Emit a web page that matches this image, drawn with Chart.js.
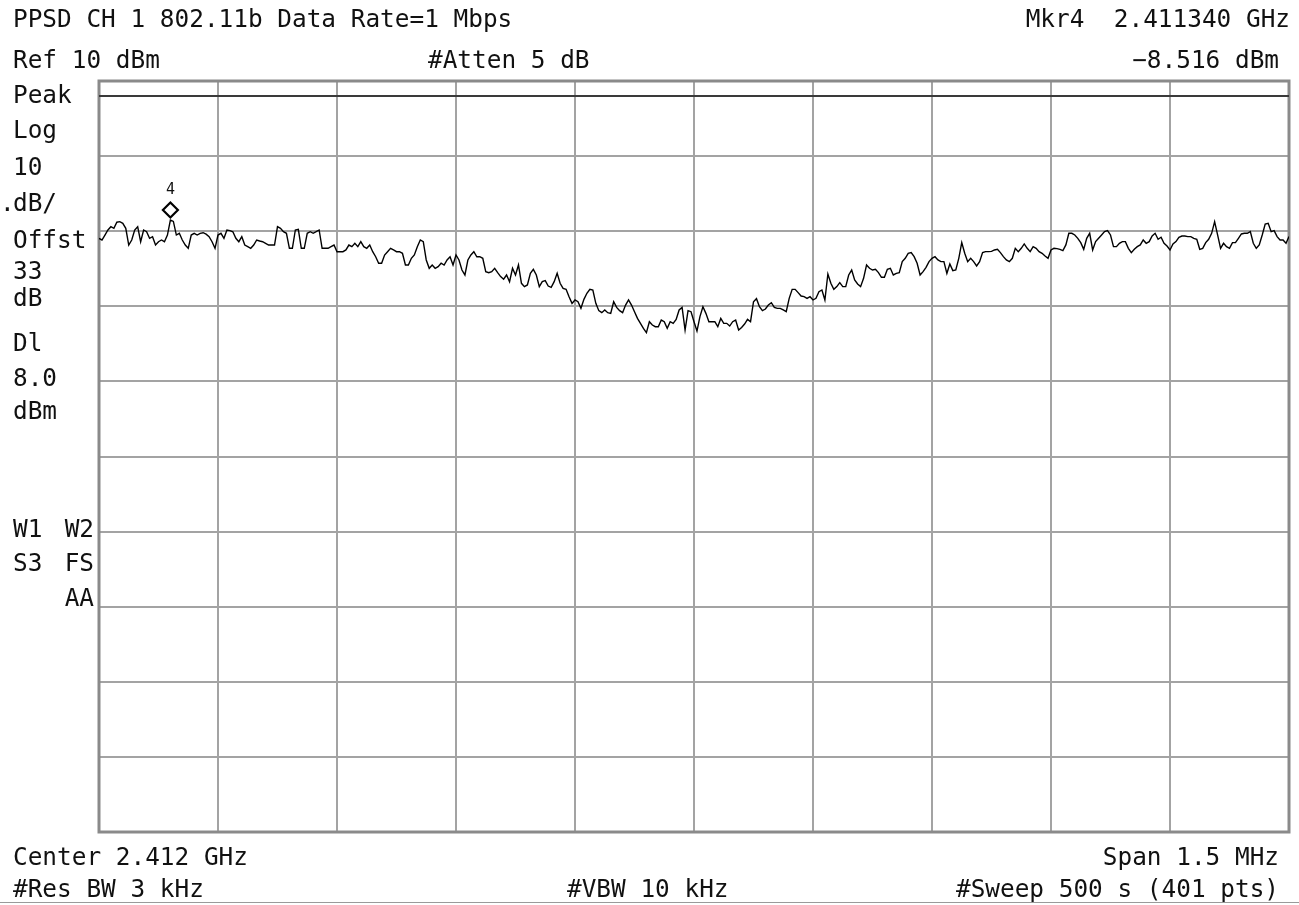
<!DOCTYPE html>
<html>
<head>
<meta charset="utf-8">
<script src="https://cdn.jsdelivr.net/npm/chart.js@4.4.1/dist/chart.umd.min.js"></script>
<style>
  html, body { margin: 0; padding: 0; background: #fff; }
  #wrap { width: 1299px; height: 905px; }
</style>
</head>
<body>
<div id="wrap"><canvas id="psd" width="1299" height="905"></canvas></div>
<script>
// analyzer settings
const centerMHz = 2412;
const spanMHz = 1.5;
const refLevelDbm = 10;
const dbPerDiv = 10;
const displayLineDbm = 8.0;
const markerMHz = 2411.34;
const markerDbm = -8.516;

// 401 point sweep, dBm
const traceDbm = [
  -10.95, -11.17, -10.51, -9.84, -9.40, -9.61, -8.80, -8.73, -8.95, -9.61,
  -11.84, -11.17, -9.84, -9.40, -11.40, -9.84, -10.07, -10.95, -10.73, -11.84,
  -11.40, -11.17, -11.40, -10.51, -8.52, -8.70, -10.51, -10.28, -11.17, -11.84,
  -12.28, -10.51, -10.28, -10.51, -10.28, -10.20, -10.40, -10.73, -11.40, -12.28,
  -10.51, -10.28, -10.95, -9.84, -9.93, -10.07, -10.95, -11.40, -10.73, -11.84,
  -12.06, -12.28, -11.84, -11.17, -11.30, -11.40, -11.61, -11.84, -11.84, -11.84,
  -9.40, -9.61, -10.07, -10.28, -12.28, -12.28, -9.84, -9.75, -12.28, -12.28,
  -10.28, -10.07, -10.28, -10.07, -9.84, -12.28, -12.28, -12.28, -12.06, -11.84,
  -12.73, -12.72, -12.73, -12.50, -11.84, -12.06, -11.61, -12.06, -11.40, -12.06,
  -12.28, -11.84, -12.73, -13.40, -14.27, -14.27, -13.17, -12.73, -12.28, -12.50,
  -12.73, -12.73, -12.94, -14.50, -14.50, -13.61, -13.17, -12.06, -11.17, -11.40,
  -13.83, -14.94, -14.50, -14.94, -14.73, -14.27, -14.50, -13.83, -13.40, -14.50,
  -13.17, -13.83, -15.17, -15.83, -13.83, -13.17, -12.73, -13.40, -13.40, -13.61,
  -15.39, -15.52, -15.39, -14.94, -15.52, -16.05, -16.40, -15.83, -16.72, -14.94,
  -15.83, -14.50, -16.94, -17.38, -17.16, -15.61, -15.08, -15.83, -17.38, -16.72,
  -16.58, -17.30, -17.47, -16.72, -15.61, -16.94, -17.61, -17.74, -18.72, -19.61,
  -19.16, -19.39, -20.27, -19.07, -18.27, -17.74, -17.83, -19.61, -20.58, -20.85,
  -20.49, -20.85, -20.94, -19.39, -20.14, -20.58, -20.85, -19.83, -19.16, -19.83,
  -20.72, -21.61, -22.27, -22.94, -23.51, -22.05, -22.49, -22.72, -22.72, -21.83,
  -22.05, -22.94, -22.05, -22.27, -21.74, -20.49, -20.14, -23.16, -20.58, -20.72,
  -22.05, -23.30, -21.38, -20.05, -20.94, -22.05, -22.05, -22.05, -22.72, -21.61,
  -22.27, -22.27, -22.63, -22.05, -21.83, -23.16, -22.81, -22.36, -21.74, -22.05,
  -19.39, -18.98, -20.05, -20.58, -20.36, -19.83, -19.52, -20.14, -20.27, -20.27,
  -20.49, -20.72, -18.94, -17.74, -17.74, -18.18, -18.63, -18.72, -18.94, -18.72,
  -19.16, -18.94, -18.05, -17.83, -19.16, -15.70, -16.94, -17.74, -17.38, -16.85,
  -17.38, -17.38, -15.83, -15.17, -16.50, -17.03, -17.38, -16.27, -14.50, -14.94,
  -15.17, -15.08, -15.52, -16.14, -16.14, -15.07, -14.94, -15.83, -15.61, -15.52,
  -14.05, -13.61, -12.94, -12.85, -13.39, -14.27, -15.83, -15.38, -14.81, -14.05,
  -13.61, -13.39, -13.83, -14.05, -14.05, -15.61, -14.36, -15.25, -15.16, -13.61,
  -11.52, -12.94, -14.05, -13.61, -14.05, -14.63, -14.05, -12.85, -12.72, -12.72,
  -12.68, -12.50, -12.41, -12.85, -13.39, -13.83, -14.05, -13.61, -12.28, -12.72,
  -12.28, -11.70, -12.28, -12.72, -12.06, -12.28, -12.72, -12.94, -13.30, -13.61,
  -12.50, -12.28, -12.32, -12.41, -12.59, -11.83, -10.28, -10.28, -10.50, -10.95,
  -11.52, -12.41, -10.95, -10.28, -12.50, -11.39, -10.95, -10.50, -10.06, -9.92,
  -10.50, -12.06, -12.06, -11.61, -11.39, -11.39, -12.28, -12.85, -12.41, -12.06,
  -11.83, -11.17, -11.61, -11.39, -10.64, -10.28, -11.08, -10.81, -11.61, -11.97,
  -12.50, -11.70, -11.39, -10.81, -10.64, -10.64, -10.72, -10.72, -10.95, -11.08,
  -12.41, -12.28, -11.52, -11.08, -10.28, -8.73, -10.50, -12.28, -11.61, -12.06,
  -12.28, -11.52, -11.52, -10.95, -10.37, -10.28, -10.28, -10.06, -11.61, -12.28,
  -11.83, -10.50, -9.04, -8.95, -10.06, -9.92, -10.72, -11.17, -11.17, -11.61,
  -10.72
];

const startMHz = centerMHz - spanMHz / 2;
const stopMHz = centerMHz + spanMHz / 2;
const bottomDbm = refLevelDbm - 10 * dbPerDiv;
const xGrid = Array.from({ length: 11 }, (_, i) => startMHz + i * spanMHz / 10);
const tracePts = traceDbm.map((v, i) => ({ x: startMHz + i * spanMHz / (traceDbm.length - 1), y: v }));

const FONT = '24.4px "DejaVu Sans Mono", monospace';

const screenText = {
  id: 'screenText',
  beforeDatasetsDraw(chart) {
    const { ctx, chartArea: a } = chart;
    ctx.save();
    ctx.strokeStyle = '#8a8a8a';
    ctx.lineWidth = 3;
    ctx.strokeRect(a.left, a.top, a.right - a.left, a.bottom - a.top);
    ctx.restore();
  },
  afterDraw(chart) {
    const { ctx } = chart;
    ctx.save();
    ctx.fillStyle = '#111';
    ctx.font = FONT;
    ctx.textBaseline = 'alphabetic';

    const left = (t, x, y) => { ctx.textAlign = 'left'; ctx.fillText(t, x, y); };
    const right = (t, x, y) => { ctx.textAlign = 'right'; ctx.fillText(t, x, y); };

    left('PPSD CH 1 802.11b Data Rate=1 Mbps', 13, 27);
    right('Mkr4  2.411340 GHz', 1290, 27);
    left('Ref 10 dBm', 13, 68);
    left('#Atten 5 dB', 428, 68);
    right('\u22128.516 dBm', 1279, 68);

    left('Peak', 13, 103);
    left('Log', 13, 138);
    left('10', 13, 175);
    left('.', 0, 211);
    left('dB/', 13, 211);
    left('Offst', 13, 248);
    left('33', 13, 279);
    left('dB', 13, 306);
    left('Dl', 13, 351);
    left('8.0', 13, 386);
    left('dBm', 13, 419);
    left('W1', 13, 537);
    right('W2', 94, 537);
    left('S3', 13, 571);
    right('FS', 94, 571);
    right('AA', 94, 606);

    left('Center 2.412 GHz', 13, 865);
    right('Span 1.5 MHz', 1279, 865);
    left('#Res BW 3 kHz', 13, 897);
    left('#VBW 10 kHz', 567, 897);
    right('#Sweep 500 s (401 pts)', 1279, 897);

    ctx.fillStyle = '#9a9a9a';
    ctx.fillRect(0, 902, 1299, 1);

    // marker 4
    const mx = chart.scales.x.getPixelForValue(markerMHz);
    const my = chart.scales.y.getPixelForValue(markerDbm);
    const cy = my - 10;
    ctx.beginPath();
    ctx.moveTo(mx, cy - 7.5);
    ctx.lineTo(mx + 7.5, cy);
    ctx.lineTo(mx, cy + 7.5);
    ctx.lineTo(mx - 7.5, cy);
    ctx.closePath();
    ctx.fillStyle = '#fff';
    ctx.fill();
    ctx.strokeStyle = '#000';
    ctx.lineWidth = 2.2;
    ctx.stroke();
    ctx.fillStyle = '#111';
    ctx.font = '15px "DejaVu Sans Mono", monospace';
    ctx.textAlign = 'center';
    ctx.fillText('4', mx, my - 26);
    ctx.restore();
  }
};

const gridStyle = { color: '#a3a3a3', lineWidth: 2, drawTicks: false };

new Chart(document.getElementById('psd'), {
  type: 'line',
  data: {
    datasets: [
      {
        data: [{ x: startMHz, y: displayLineDbm }, { x: stopMHz, y: displayLineDbm }],
        borderColor: '#3a3a3a',
        borderWidth: 2,
        pointRadius: 0
      },
      {
        data: tracePts,
        borderColor: '#000',
        borderWidth: 1.4,
        pointRadius: 0,
        tension: 0
      }
    ]
  },
  options: {
    responsive: false,
    animation: false,
    devicePixelRatio: 1,
    layout: { padding: { left: 99, top: 81, right: 10, bottom: 73 } },
    plugins: { legend: { display: false }, tooltip: { enabled: false } },
    scales: {
      x: {
        type: 'linear',
        min: startMHz,
        max: stopMHz,
        afterBuildTicks: axis => { axis.ticks = xGrid.map(v => ({ value: v })); },
        ticks: { display: false },
        grid: gridStyle,
        border: { display: false }
      },
      y: {
        type: 'linear',
        min: bottomDbm,
        max: refLevelDbm,
        ticks: { display: false, stepSize: dbPerDiv },
        grid: gridStyle,
        border: { display: false }
      }
    }
  },
  plugins: [screenText]
});
</script>
</body>
</html>
